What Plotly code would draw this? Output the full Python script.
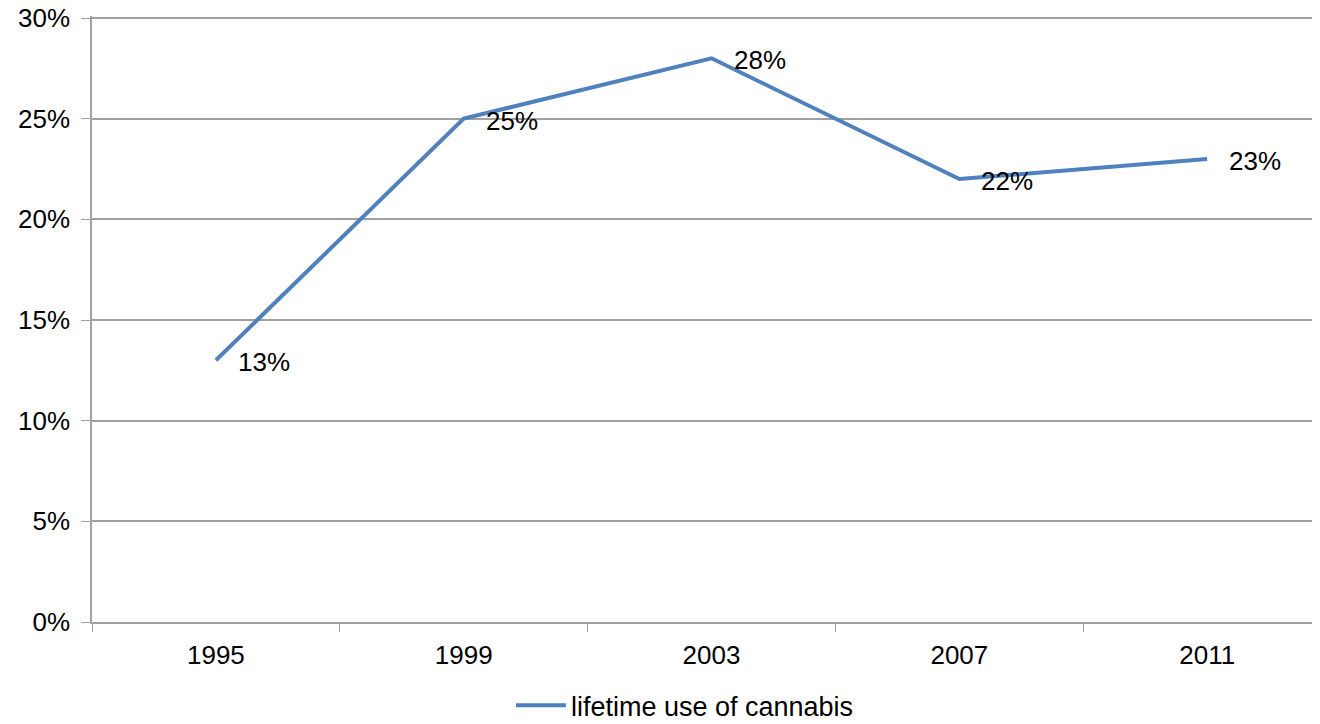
import plotly.graph_objects as go

years = ['1995', '1999', '2003', '2007', '2011']
cannabis = [13, 25, 28, 22, 23]
series_name = 'lifetime use of cannabis'

axis_col = 'rgb(160,160,160)'
font_fam = 'Liberation Sans, Arial, sans-serif'

fig = go.Figure(data=go.Scatter(
    x=years, y=cannabis, name=series_name,
    mode='lines',
    line=dict(color='rgb(79,129,189)', width=4),
))

# data labels, to the right of each point
for i, v in enumerate(cannabis):
    fig.add_annotation(x=i, y=v, xref='x', yref='y', text='%d%%' % v, showarrow=False,
                       xanchor='left', yanchor='middle', xshift=20, yshift=-2,
                       font=dict(size=26, color='black', family=font_fam))

# page body has an 8px margin, so keep the figure inside the window
fig.update_layout(
    width=1304, height=708,
    margin=dict(l=84, r=0, t=8, b=94, autoexpand=False),
    paper_bgcolor='white', plot_bgcolor='white',
    font=dict(family=font_fam, size=26, color='black'),
    showlegend=True,
    legend=dict(orientation='h', x=0.486, xanchor='center', y=-0.138, yanchor='middle',
                font=dict(size=27), itemwidth=50),
    xaxis=dict(
        type='category', range=[-0.5, 4.423], automargin=False,
        tickson='boundaries', ticks='outside', ticklen=8, tickcolor=axis_col,
        showgrid=False, showline=True, linecolor=axis_col, linewidth=1.5,
        ticklabelstandoff=9,
    ),
    yaxis=dict(
        range=[0, 30.1], dtick=5, ticksuffix='%', automargin=False,
        ticks='outside', ticklen=9, tickcolor=axis_col,
        showgrid=True, gridcolor=axis_col, gridwidth=1.5,
        showline=True, linecolor=axis_col, linewidth=1.5,
        zeroline=False, ticklabelstandoff=6, ticklabeloverflow='allow',
    ),
)

fig.write_html("out.html")
